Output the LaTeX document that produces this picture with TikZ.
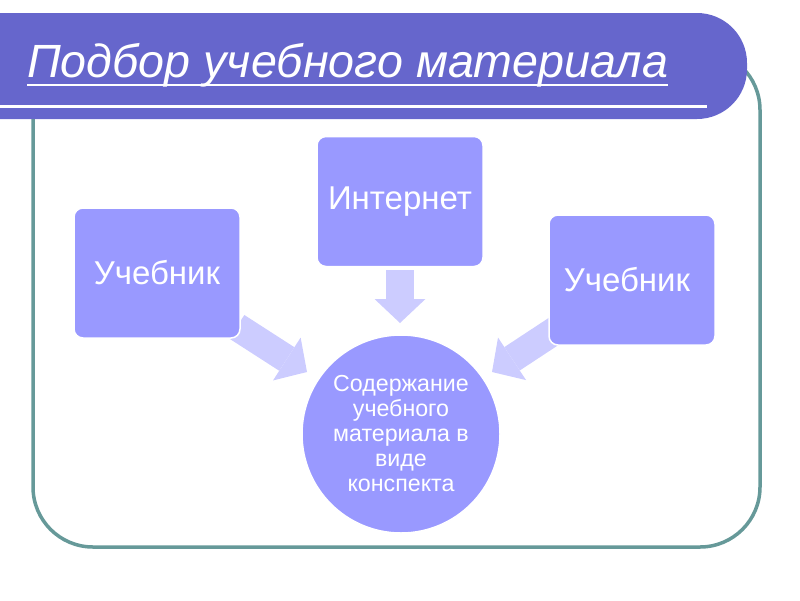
\documentclass[tikz,border=0pt]{standalone}
\usepackage{fontspec}
\setmainfont{Liberation Sans}
\usetikzlibrary{arrows.meta,backgrounds}
\definecolor{bannerc}{HTML}{6666CC}
\definecolor{framec}{HTML}{669999}
\definecolor{boxc}{HTML}{9999FF}
\definecolor{arrowc}{HTML}{CCCCFF}
\begin{document}
\begin{tikzpicture}[x=1pt,y=-1pt,
  box/.style={fill=boxc, draw=white, line width=1.5pt, rounded corners=9pt,
    minimum width=166pt, minimum height=130pt, text=white,
    font=\fontsize{33}{38}\selectfont, inner sep=0pt},
  blockarrow/.style={draw=arrowc, line width=28pt,
    -{Triangle[length=24pt,width=51pt,line width=0pt,fill=arrowc]}}]
\useasboundingbox (0,0) rectangle (800,600);
% frame
\draw[framec, line width=3.5pt, rounded corners=60pt] (33,50) rectangle (760,547);
% banner
\fill[bannerc, rounded corners=50pt] (-100,13) rectangle (747,119);
\node[anchor=base west, inner sep=0pt, text=white,
  font=\fontsize{46.6}{50}\selectfont\itshape] (title) at (27,77) {Подбор учебного материала};
\draw[white, line width=2pt] ([yshift=-8pt]title.base west) -- ([yshift=-8pt]title.base east);
\coordinate (lineL) at (-5,106);
\coordinate (lineR) at (707,106);
\draw[white, line width=3pt] (lineL) -- (lineR);
% nodes
\node[box] (lbox) at (157,273) {Учебник};
\node[box] (net) at (400,201.5) {Интернет};
\node[box] (rbox) at (632,280) {\hspace*{-10pt}Учебник};
\node[circle, fill=boxc, draw=white, line width=1.5pt, minimum size=198pt, inner sep=0pt,
  text=white, align=center, font=\fontsize{23.2}{25}\selectfont] (c) at (401,434)
  {Содержание\\учебного\\материала в\\виде\\конспекта};
% arrows
\coordinate (ntip) at (400,323);
\coordinate (ltip) at (307,372);
\coordinate (rtip) at (492,372);
\begin{scope}[on background layer]
\draw[blockarrow] ([yshift=-3pt]net.south) -- (ntip);
\draw[blockarrow] ([xshift=-4pt,yshift=12pt]lbox.south east) -- (ltip);
\draw[blockarrow] ([xshift=14pt,yshift=20pt]rbox.south west) -- (rtip);
\end{scope}
\end{tikzpicture}
\end{document}
